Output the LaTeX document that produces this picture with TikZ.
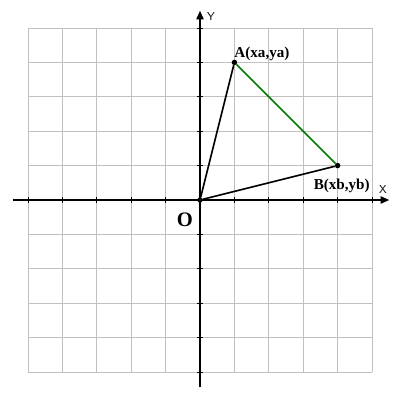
\documentclass[tikz,border=0pt]{standalone}
\usepackage{fontspec}
\setmainfont{Liberation Serif}
\usetikzlibrary{arrows.meta}
\begin{document}
\begin{tikzpicture}[x=1cm,y=1cm,
  gridline/.style={draw={rgb,255:red,192;green,192;blue,192},line width=0.8pt},
  axisline/.style={draw=black,line width=1pt,-{Triangle[length=7pt,width=6pt]}},
  edge/.style={line width=1.4pt},
  pt/.style={circle,fill=black,inner sep=0pt,minimum size=4.5pt},
  lbl/.style={font=\bfseries\fontsize{12.5}{14}\selectfont,inner sep=1pt},
  axlbl/.style={font=\sffamily\fontsize{9.5}{10}\selectfont,inner sep=0pt}]
\useasboundingbox (-5.814,-5.814) rectangle (5.814,5.814);
% grid
\draw[gridline] (-5,-5) grid (5,5);
% axes
\coordinate (xs) at (-5.45,0);
\coordinate (xe) at (5.5,0);
\coordinate (ys) at (0,-5.45);
\coordinate (ye) at (0,5.5);
\draw[axisline] (xs) -- (xe);
\draw[axisline] (ys) -- (ye);
\foreach \i in {-5,...,5} {
  \draw[line width=0.8pt] (\i,-0.09) -- (\i,0.09);
  \draw[line width=0.8pt] (-0.09,\i) -- (0.09,\i);
}
\node[axlbl] (xl) at (5.32,0.3) {X};
\node[axlbl] (yl) at (0.32,5.32) {Y};
% points
\node[pt] (O) at (0,0) {};
\node[pt] (A) at (1,4) {};
\node[pt] (B) at (4,1) {};
\draw[edge] (O) -- (A);
\draw[edge] (O) -- (B);
\draw[edge,draw={rgb,255:red,0;green,120;blue,0}] (A) -- (B);
\node[lbl,anchor=south west] (Al) at (0.96,4.0) {A(xa,ya)};
\node[lbl] (Bl) at (4.12,0.42) {B(xb,yb)};
\node[font=\bfseries\fontsize{17}{18}\selectfont] (Ol) at (-0.44,-0.58) {O};
\end{tikzpicture}
\end{document}
